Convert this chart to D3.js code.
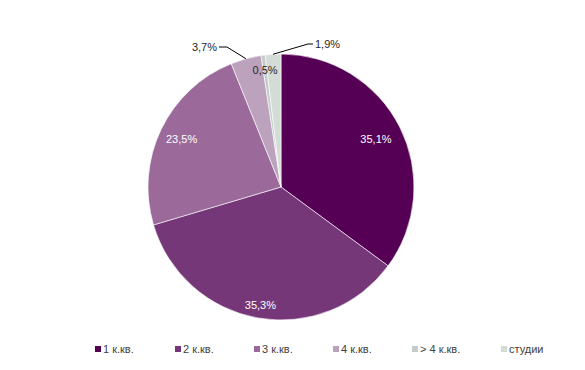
<!DOCTYPE html>
<html>
<head>
<meta charset="utf-8">
<script src="https://cdn.jsdelivr.net/npm/d3@7"></script>
<style>
  html, body { margin: 0; padding: 0; background: #fff; }
  svg { display: block; font-family: Arial, "Liberation Sans", sans-serif; }
</style>
</head>
<body>
<svg id="chart"></svg>
<script>
// data
const categories = ['1 к.кв.', '2 к.кв.', '3 к.кв.', '4 к.кв.', '> 4 к.кв.', 'студии'];
const values = [35.1, 35.3, 23.5, 3.7, 0.5, 1.9];
const labels = ['35,1%', '35,3%', '23,5%', '3,7%', '0,5%', '1,9%'];
const colors = ['#560055', '#763779', '#9b6a9b', '#bca2bd', '#c3ccc8', '#d4dcd8'];

const width = 585, height = 370;
const cx = 281, cy = 187, radius = 133;

const svg = d3.select('#chart')
  .attr('width', width)
  .attr('height', height)
  .attr('viewBox', [0, 0, width, height]);

const pie = d3.pie().sort(null).value((d) => d)(values);
const arc = d3.arc().innerRadius(0).outerRadius(radius);

const g = svg.append('g').attr('transform', `translate(${cx},${cy})`);

g.selectAll('path')
  .data(pie)
  .join('path')
  .attr('d', arc)
  .attr('fill', (d, i) => colors[i])
  .attr('stroke', '#ffffff')
  .attr('stroke-width', 0.6);

// inside labels: radius factor per slice (excel best-fit placement)
const inside = { 0: 0.80, 1: 0.90, 2: 0.83, 4: 0.89 };
const textColor = (i) => (i < 3 ? '#ffffff' : '#262626');

Object.entries(inside).forEach(([k, f]) => {
  const i = +k;
  const a = (pie[i].startAngle + pie[i].endAngle) / 2;
  const r = radius * f;
  g.append('text')
    .attr('x', Math.sin(a) * r)
    .attr('y', -Math.cos(a) * r)
    .attr('dy', '0.35em')
    .attr('text-anchor', 'middle')
    .attr('font-size', 11)
    .attr('fill', textColor(i))
    .text(labels[i]);
});

// outside labels with leader lines
const outside = [
  { i: 3, elbow: [-54, -140], end: [-62, -140], anchor: 'end' },
  { i: 5, elbow: [27, -143], end: [32, -143], anchor: 'start' }
];
outside.forEach((o) => {
  const a = (pie[o.i].startAngle + pie[o.i].endAngle) / 2;
  const p0 = [Math.sin(a) * radius, -Math.cos(a) * radius];
  g.append('polyline')
    .attr('points', [p0, o.elbow, o.end].map((p) => p.join(',')).join(' '))
    .attr('fill', 'none')
    .attr('stroke', '#000')
    .attr('stroke-width', 1);
  g.append('text')
    .attr('x', o.end[0] + (o.anchor === 'end' ? -2 : 2))
    .attr('y', o.end[1])
    .attr('dy', '0.35em')
    .attr('text-anchor', o.anchor)
    .attr('font-size', 11)
    .attr('fill', '#262626')
    .text(labels[o.i]);
});

// legend
const legendX = [95, 175, 254, 333, 412, 501];
const legend = svg.append('g').attr('transform', 'translate(0,346)');
const items = legend.selectAll('g')
  .data(categories)
  .join('g')
  .attr('transform', (d, i) => `translate(${legendX[i]},0)`);
items.append('rect')
  .attr('width', 6)
  .attr('height', 6)
  .attr('fill', (d, i) => colors[i]);
items.append('text')
  .attr('x', 8)
  .attr('y', 3)
  .attr('dy', '0.35em')
  .attr('font-size', 11)
  .attr('fill', '#404040')
  .text((d) => d);
</script>
</body>
</html>
